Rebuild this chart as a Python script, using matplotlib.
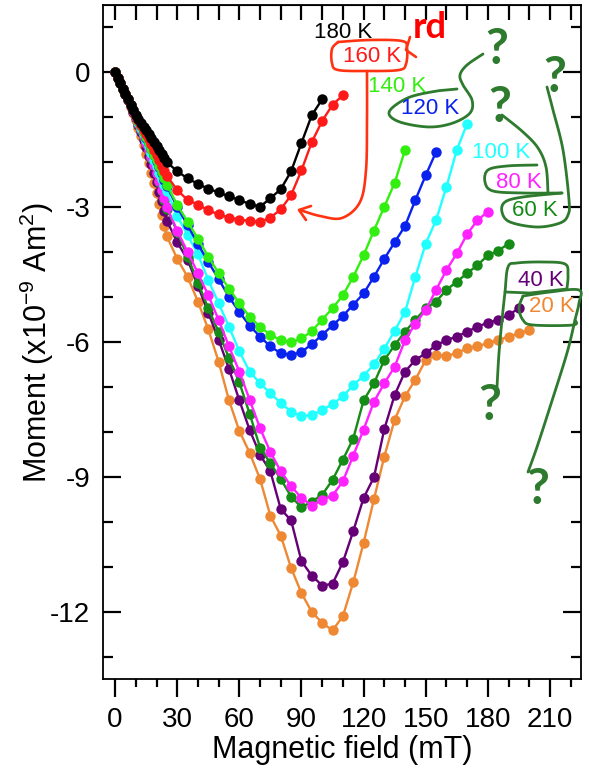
import numpy as np
import matplotlib.pyplot as plt
import matplotlib.transforms as mtransforms
from matplotlib.lines import Line2D
from matplotlib.ticker import MultipleLocator

plt.rcParams['font.family'] = ['Liberation Sans', 'DejaVu Sans']
plt.rcParams['axes.unicode_minus'] = False
plt.rcParams['mathtext.default'] = 'regular'

# magnetic field grid (mT), dense at the start
field = [0, 1.25, 2.5, 3.75, 5, 6.25, 7.5, 8.75, 10, 11.25, 12.5, 13.75, 15,
         16.25, 17.5, 18.75, 20, 21.25, 22.5, 23.75, 25,
         30, 35, 40, 45, 50, 55, 60, 65, 70, 75, 80, 85, 90, 95, 100,
         105, 110, 115, 120, 125, 130, 135, 140, 145, 150, 155, 160,
         165, 170, 175, 180, 185, 190, 195, 200]

# moment (x1e-9 Am^2), one list per temperature
m_20K = [0, -0.12, -0.24, -0.36, -0.49, -0.62, -0.76, -0.91, -1.07, -1.24, -1.42,
         -1.61, -1.81, -2.02, -2.24, -2.46, -2.69, -2.92, -3.17, -3.41, -3.65,
         -4.15, -4.55, -5.1, -5.72, -6.44, -7.3, -7.98, -8.47, -9.05, -9.87,
         -10.31, -11.03, -11.59, -12.01, -12.25, -12.42, -12.1, -11.35, -10.47,
         -9.5, -8.55, -7.73, -7.21, -6.84, -6.4, -6.29, -6.31, -6.25, -6.14,
         -6.09, -6.03, -5.96, -5.88, -5.81, -5.73]
m_40K = [0, -0.12, -0.24, -0.36, -0.48, -0.61, -0.74, -0.88, -1.02, -1.17, -1.33,
         -1.5, -1.67, -1.85, -2.04, -2.24, -2.45, -2.66, -2.87, -3.09, -3.3,
         -3.78, -4.17, -4.75, -5.35, -5.95, -6.6, -7.3, -7.96, -8.51, -8.88,
         -9.72, -9.97, -10.88, -11.2, -11.42, -11.38, -10.9, -10.21, -9.47,
         -9.01, -7.94, -7.18, -6.66, -6.4, -6.25, -6.07, -5.96, -5.88, -5.77,
         -5.66, -5.57, -5.51, -5.4, -5.25]
m_60K = [0, -0.12, -0.24, -0.36, -0.48, -0.6, -0.73, -0.86, -1.0, -1.14, -1.28,
         -1.43, -1.58, -1.74, -1.9, -2.07, -2.25, -2.44, -2.63, -2.83, -3.03,
         -3.55, -4.1, -4.68, -5.25, -5.78, -6.36, -6.9, -7.6, -8.35, -8.7,
         -9.05, -9.44, -9.68, -9.55, -9.4, -9.07, -8.62, -8.15, -7.3, -6.92,
         -6.4, -6.07, -5.77, -5.51, -5.25, -5.1, -4.84, -4.66, -4.47, -4.29,
         -4.07, -3.97, -3.81]
m_80K = [0, -0.12, -0.24, -0.36, -0.48, -0.6, -0.73, -0.86, -0.99, -1.13, -1.27,
         -1.42, -1.57, -1.73, -1.89, -2.06, -2.23, -2.42, -2.61, -2.8, -3.0,
         -3.52, -4.0, -4.47, -4.96, -5.51, -6.1, -6.66, -7.29, -7.92, -8.45,
         -8.88, -9.21, -9.47, -9.64, -9.51, -9.42, -9.1, -8.53, -7.95, -7.33,
         -6.92, -6.55, -5.96, -5.59, -5.29, -4.84, -4.4, -4.03, -3.6, -3.29, -3.1]
m_100K = [0, -0.12, -0.24, -0.36, -0.48, -0.6, -0.72, -0.84, -0.97, -1.1, -1.23,
          -1.36, -1.5, -1.64, -1.79, -1.94, -2.09, -2.23, -2.37, -2.51, -2.65,
          -3.2, -3.62, -4.05, -4.62, -5.14, -5.66, -6.21, -6.66, -6.92, -7.14,
          -7.36, -7.55, -7.65, -7.62, -7.52, -7.38, -7.21, -6.96, -6.75, -6.5,
          -6.15, -5.75, -5.33, -4.55, -3.81, -3.29, -2.55, -1.73, -1.14]
m_120K = [0, -0.12, -0.24, -0.36, -0.48, -0.6, -0.72, -0.84, -0.96, -1.08, -1.2,
          -1.32, -1.45, -1.58, -1.71, -1.84, -1.98, -2.11, -2.25, -2.39, -2.53,
          -3.0, -3.4, -3.82, -4.22, -4.6, -5.0, -5.33, -5.64, -5.88, -6.1,
          -6.25, -6.29, -6.22, -6.05, -5.84, -5.63, -5.42, -5.17, -4.92, -4.55,
          -4.15, -3.78, -3.42, -2.84, -2.29, -1.77]
m_140K = [0, -0.12, -0.24, -0.36, -0.48, -0.6, -0.72, -0.84, -0.96, -1.08, -1.2,
          -1.32, -1.44, -1.57, -1.7, -1.83, -1.96, -2.09, -2.22, -2.36, -2.5,
          -2.95, -3.32, -3.7, -4.1, -4.47, -4.81, -5.14, -5.44, -5.66, -5.84,
          -5.96, -6.01, -5.92, -5.76, -5.5, -5.25, -4.96, -4.55, -4.07, -3.52,
          -2.99, -2.46, -1.73]
m_160K = [0, -0.12, -0.24, -0.36, -0.48, -0.6, -0.72, -0.84, -0.96, -1.07, -1.18,
          -1.28, -1.38, -1.49, -1.6, -1.72, -1.84, -1.96, -2.08, -2.19, -2.3,
          -2.62, -2.84, -2.94, -3.07, -3.16, -3.23, -3.28, -3.3, -3.33, -3.23,
          -3.05, -2.73, -2.18, -1.55, -1.08, -0.72, -0.51]
m_180K = [0, -0.12, -0.24, -0.36, -0.48, -0.6, -0.72, -0.83, -0.94, -1.04, -1.13,
          -1.21, -1.29, -1.37, -1.46, -1.55, -1.64, -1.73, -1.82, -1.91, -2.0,
          -2.2, -2.36, -2.48, -2.59, -2.67, -2.76, -2.84, -2.93, -2.99, -2.8,
          -2.6, -2.2, -1.57, -0.95, -0.6]

series = [m_20K, m_40K, m_60K, m_80K, m_100K, m_120K, m_140K, m_160K, m_180K]
labels = ['20 K', '40 K', '60 K', '80 K', '100 K', '120 K', '140 K', '160 K', '180 K']
colors = ['#ee8833', '#660077', '#158c15', '#ff22ff', '#22ffff',
          '#0a22ee', '#33ee11', '#ff1a1a', '#000000']
# label centres in image pixels
label_pos = [(552, 307), (541, 280), (535, 211), (519, 183), (501, 153),
             (430, 108), (397, 86), (372, 56), (343, 32)]


def smooth(pts, n=10):
    # catmull-rom through hand drawn stroke points
    p = np.array(pts, float)
    p = np.vstack([p[0], p, p[-1]])
    out = []
    for i in range(1, len(p) - 2):
        p0, p1, p2, p3 = p[i - 1], p[i], p[i + 1], p[i + 2]
        for t in np.linspace(0, 1, n, endpoint=False):
            out.append(0.5 * (2 * p1 + (-p0 + p2) * t
                              + (2 * p0 - 5 * p1 + 4 * p2 - p3) * t ** 2
                              + (-p0 + 3 * p1 - 3 * p2 + p3) * t ** 3))
    out.append(p[-2])
    return np.array(out)


fig = plt.figure(figsize=(5.89, 7.75), dpi=100)
ax = fig.add_axes([102.7 / 589, 1 - 679 / 775, (581 - 102.7) / 589, (679 - 5) / 775])

for y, c in zip(series, colors):
    ax.plot(field[:len(y)], y, '-o', color=c, lw=1.7, ms=7.5, mew=0)

ax.set_xlim(-6, 225)
ax.set_ylim(-13.5, 1.5)
ax.xaxis.set_major_locator(MultipleLocator(30))
ax.xaxis.set_minor_locator(MultipleLocator(10))
ax.yaxis.set_major_locator(MultipleLocator(3))
ax.yaxis.set_minor_locator(MultipleLocator(1))
ax.tick_params(axis='x', which='major', direction='out', length=13, width=1.6, pad=7, labelsize=20)
ax.tick_params(axis='x', which='minor', direction='out', length=6, width=1.6)
ax.tick_params(axis='y', which='major', direction='in', length=13, width=1.6, right=True, pad=9, labelsize=20)
ax.tick_params(axis='y', which='minor', direction='in', length=7, width=1.6, right=True)
for s in ax.spines.values():
    s.set_linewidth(1.3)

top = ax.secondary_xaxis('top')
top.xaxis.set_major_locator(MultipleLocator(10))
top.tick_params(direction='in', length=11, width=1.6, labeltop=False)

ax.set_xlabel('Magnetic field (mT)', fontsize=22)
ax.set_ylabel('Moment (x10$^{-9}$ Am$^{2}$)', fontsize=22)
ax.xaxis.set_label_coords(0.5, -0.083)
ax.yaxis.set_label_coords(-0.097, 0.5)

# hand written annotations, in image pixel coordinates
pix = mtransforms.Affine2D().scale(1 / 589, -1 / 775).translate(0, 1) + fig.transFigure

for lab, (x, y), c in zip(labels, label_pos, colors):
    fig.text(x, y, lab, transform=pix, color=c, fontsize=16, ha='center', va='center')

red = '#ff3311'
red_strokes = [
    [(338, 42), (370, 40), (402, 41), (407, 48), (406, 64), (399, 70), (368, 71),
     (338, 70), (332, 63), (332, 49), (338, 42)],
    [(367, 71), (367, 120), (366, 170), (360, 202), (342, 218), (320, 216), (300, 210)],
    [(311, 206), (299, 210), (306, 220)],
    [(410, 37), (406, 50), (416, 57)],
]
for st in red_strokes:
    pts = smooth(st) if len(st) > 3 else np.array(st, float)
    fig.add_artist(Line2D(pts[:, 0], pts[:, 1], transform=pix, color=red, lw=1.9,
                          solid_capstyle='round', solid_joinstyle='round'))

green = '#2e7a2e'
green_strokes = [
    [(457, 89), (437, 91), (410, 97), (392, 108), (390, 116), (403, 123), (430, 127),
     (453, 123), (470, 113), (472, 100), (463, 85), (460, 75), (467, 65), (483, 54)],
    [(537, 165), (507, 166), (488, 170), (485, 182), (493, 191), (523, 193), (562, 193)],
    [(502, 115), (523, 132), (538, 148), (546, 167), (548, 193)],
    [(562, 193), (523, 197), (505, 202), (502, 212), (510, 222), (537, 227), (560, 223),
     (568, 215), (569, 200), (563, 150), (553, 110), (547, 87)],
    [(567, 288), (568, 275), (565, 264), (543, 262), (517, 263), (508, 267), (505, 292),
     (502, 320), (499, 353), (497, 387)],
    [(505, 292), (530, 293), (567, 289)],
    [(523, 296), (550, 292), (579, 290), (579, 303), (575, 320), (567, 353), (550, 407),
     (537, 447), (528, 472)],
    [(523, 296), (519, 308), (523, 320), (533, 325), (573, 325), (575, 320)],
]
for st in green_strokes:
    pts = smooth(st) if len(st) > 3 else np.array(st, float)
    fig.add_artist(Line2D(pts[:, 0], pts[:, 1], transform=pix, color=green, lw=2.0,
                          solid_capstyle='round', solid_joinstyle='round'))

for x, y in [(497, 49), (555, 77), (500, 107), (490, 406), (538, 490)]:
    fig.text(x, y, '?', transform=pix, color=green, fontsize=36, fontweight='bold',
             family=['Lato', 'DejaVu Sans'], ha='center', va='center')

fig.text(430, 27, 'rd', transform=pix, color='#ff0000', fontsize=26, fontweight='bold',
         family=['Lato', 'DejaVu Sans'], ha='center', va='center')

fig.savefig('out.png', dpi=100)
